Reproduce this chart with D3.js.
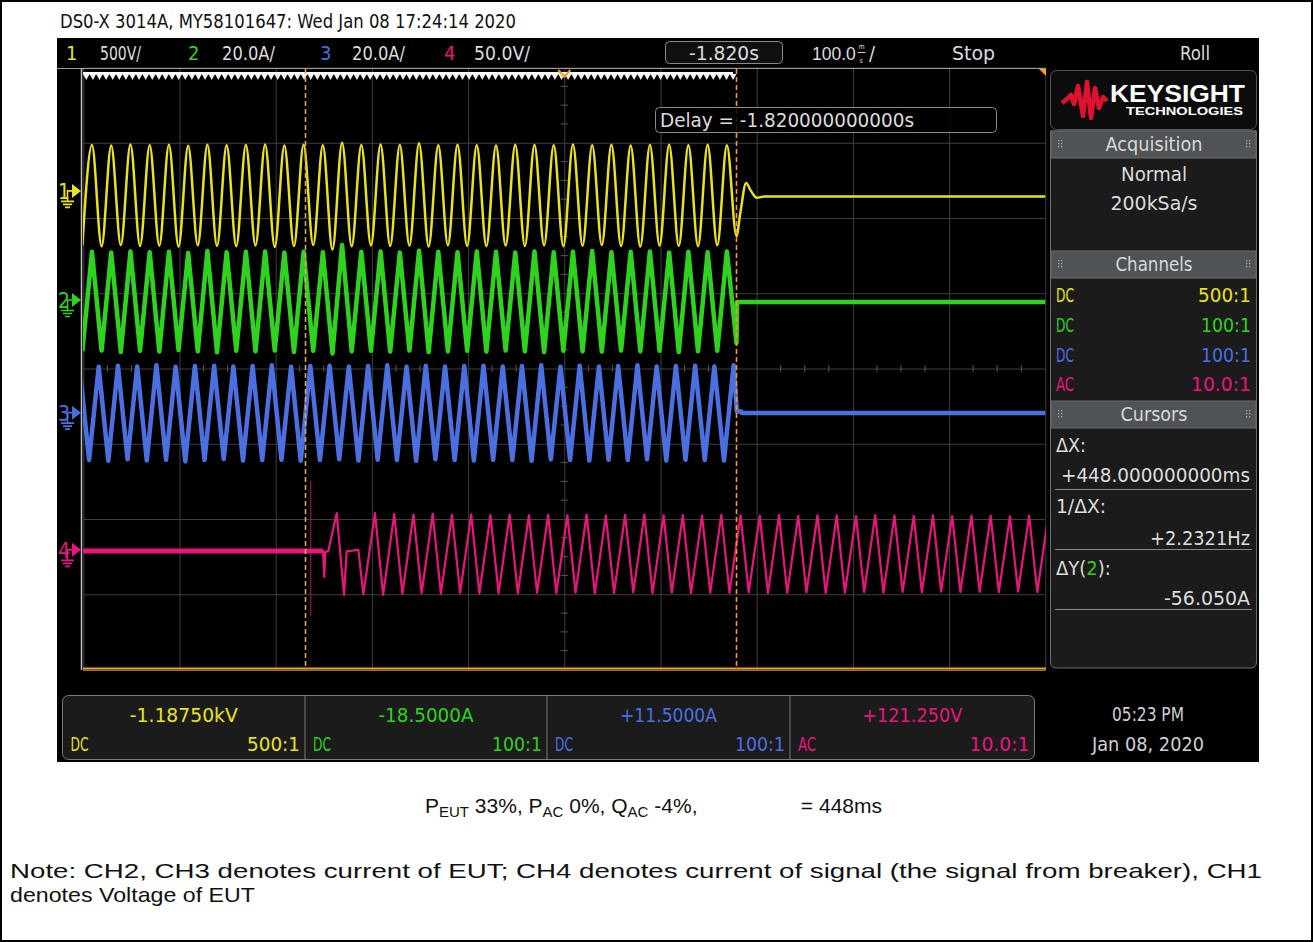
<!DOCTYPE html>
<html><head><meta charset="utf-8">
<script src="https://cdn.jsdelivr.net/npm/d3@7"></script>
<style>body{margin:0;background:#fff}svg{display:block}</style>
</head><body><svg id="c" width="1313" height="942"></svg>
<script>
// ---------------- DATA ----------------
const channelNames = ["1","2","3","4"];
const channelScaleLabels = ["500V/","20.0A/","20.0A/","50.0V/"];
const channelPerDiv = [500, 20, 20, 50];
const channelOffsetDiv = [2.36, 0.91, -0.587, -2.41];
const channelColors = ["#e8e31c","#2fd21f","#4b6fe0","#e8167c"];
const channelCoupling = ["DC","DC","DC","AC"];
const channelProbe = ["500:1","100:1","100:1","10.0:1"];
const cursorReadouts = ["-1.18750kV","-18.5000A","+11.5000A","+121.250V"];

const timeDomain = [-2320, -1320];          // ms, 100 ms/div, delay -1.820 s
const timeDivs = [-2320,-2220,-2120,-2020,-1920,-1820,-1720,-1620,-1520,-1420,-1320];
const voltDivs = [-4,-3,-2,-1,0,1,2,3,4];
const cursorTimes = [-2089, -1641];          // ΔX = 448 ms

// CH1 / CH2 extrema times (ms)
const mainsTimes = [
-2321,-2311,-2301,-2291,-2281,-2271,-2261,-2251,-2241,-2231,
-2221,-2211,-2201,-2191,-2181,-2171,-2161,-2151,-2141,-2131,
-2121,-2111,-2101,-2091,-2081,-2071,-2061,-2051,-2041,-2031,
-2021,-2011,-2001,-1991,-1981,-1971,-1961,-1951,-1941,-1931,
-1921,-1911,-1901,-1891,-1881,-1871,-1861,-1851,-1841,-1831,
-1821,-1811,-1801,-1791,-1781,-1771,-1761,-1751,-1741,-1731,
-1721,-1711,-1701,-1691,-1681,-1671,-1661,-1651,-1641];
// CH1 voltage (V)
const ch1Values = [
-362,305,-368,302,-360,308,-366,304,-364,306,
-370,300,-361,307,-365,303,-367,305,-363,309,
-372,302,-366,306,-360,304,-390,320,-368,305,
-362,308,-366,305,-364,316,-369,303,-361,306,
-365,304,-367,302,-363,307,-366,305,-362,303,
-368,308,-364,304,-360,306,-366,302,-370,305,
-363,307,-365,303,-367,306,-361,304,-300];
const ch1TailTimes = [-1637,-1631,-1626,-1620,-1612,-1320];
const ch1TailValues = [-146,53,0,-46,-37,-37];
// CH2 current (A)
const ch2Values = [
-13.6,12.8,-13.4,12.6,-13.8,12.9,-13.5,12.7,-13.7,12.8,
-13.3,12.5,-13.6,13.0,-13.9,12.7,-13.5,12.8,-13.6,12.9,
-13.4,12.6,-13.8,12.8,-13.5,12.7,-14.2,14.6,-13.6,12.8,
-13.5,12.9,-13.7,12.6,-13.4,13.1,-13.8,12.8,-13.6,12.7,
-13.5,12.9,-13.7,12.8,-13.4,12.6,-13.6,12.9,-13.8,12.7,
-13.5,12.8,-13.6,13.0,-13.7,12.7,-13.4,12.8,-13.6,12.9,
-13.5,12.6,-13.8,12.8,-13.6,12.7,-13.5,12.9,-11.4];
const ch2TailTimes = [-1640.4,-1320];
const ch2TailValues = [-0.5,-0.5];
// CH3 current (A)
const ch3Times = [
-2324,-2314,-2304,-2294,-2284,-2274,-2264,-2254,-2244,-2234,
-2224,-2214,-2204,-2194,-2184,-2174,-2164,-2154,-2144,-2134,
-2124,-2114,-2104,-2094,-2084,-2074,-2064,-2054,-2044,-2034,
-2024,-2014,-2004,-1994,-1984,-1974,-1964,-1954,-1944,-1934,
-1924,-1914,-1904,-1894,-1884,-1874,-1864,-1854,-1844,-1834,
-1824,-1814,-1804,-1794,-1784,-1774,-1764,-1754,-1744,-1734,
-1724,-1714,-1704,-1694,-1684,-1674,-1664,-1654,-1644];
const ch3Values = [
12.4,-12.6,12.2,-12.8,12.5,-12.4,12.3,-12.7,12.6,-12.5,
12.2,-12.9,12.4,-12.6,12.5,-12.3,12.3,-12.7,12.4,-12.6,
12.6,-12.5,12.2,-12.8,12.4,-12.6,12.5,-12.4,12.3,-12.7,
12.4,-12.5,12.6,-12.6,12.2,-12.8,12.5,-12.4,12.3,-12.6,
12.4,-12.7,12.5,-12.5,12.3,-12.6,12.4,-12.8,12.6,-12.4,
12.2,-12.6,12.5,-12.7,12.3,-12.5,12.4,-12.6,12.6,-12.4,
12.3,-12.7,12.4,-12.5,12.5,-12.6,12.3,-12.7,12.6];
const ch3TailTimes = [-1640.6,-1636,-1635.5,-1320];
const ch3TailValues = [0.3,0.3,-0.1,-0.1];
// CH4 voltage (V)
const ch4PreTimes = [-2320,-2070.8,-2069.5,-2068.5,-2065.3,-2056.6,-2049.0,-2046.2,-2034.1,-2028.9];
const ch4PreValues = [-0.7,-0.7,-18,-1.5,-0.7,24.4,-30,-1,0,-29.5];
const ch4GlitchTime = [-2083.6];
const ch4GlitchRange = [46, -44];
const ch4Times = [
-2016.8,-2008.3,-1996.8,-1988.3,-1976.8,-1968.3,-1956.8,-1948.3,-1936.8,-1928.3,
-1916.8,-1908.3,-1896.8,-1888.3,-1876.8,-1868.3,-1856.8,-1848.3,-1836.8,-1828.3,
-1816.8,-1808.3,-1796.8,-1788.3,-1776.8,-1768.3,-1756.8,-1748.3,-1736.8,-1728.3,
-1716.8,-1708.3,-1696.8,-1688.3,-1676.8,-1668.3,-1656.8,-1648.3,-1636.8,-1628.3,
-1616.8,-1608.3,-1596.8,-1588.3,-1576.8,-1568.3,-1556.8,-1548.3,-1536.8,-1528.3,
-1516.8,-1508.3,-1496.8,-1488.3,-1476.8,-1468.3,-1456.8,-1448.3,-1436.8,-1428.3,
-1416.8,-1408.3,-1396.8,-1388.3,-1376.8,-1368.3,-1356.8,-1348.3,-1336.8,-1328.3,
-1316.8];
const ch4Values = [
24.4,-29.9,23.8,-29.2,23.5,-28.8,23.9,-29.1,23.2,-28.6,
23.6,-29.0,23.1,-28.7,23.4,-28.9,22.9,-28.5,23.3,-28.8,
23.0,-28.4,23.5,-28.9,22.8,-28.6,23.2,-28.3,23.4,-28.7,
22.9,-28.5,23.1,-28.8,22.7,-28.4,23.3,-28.6,23.0,-28.3,
22.8,-28.7,23.2,-28.5,22.6,-28.2,23.0,-28.6,22.9,-28.4,
22.5,-28.1,23.1,-28.5,22.7,-27.9,22.6,-28.2,22.9,-27.8,
22.4,-28.0,22.8,-27.9,22.6,-28.1,22.3,-27.8,22.7,-28.0,
23.0];

// ---------------- DRAW ----------------
const F = "'DejaVu Sans Condensed','Liberation Sans Narrow','DejaVu Sans',sans-serif";
const A = "'Liberation Sans',Arial,sans-serif";
const svg = d3.select("#c");
function txt(g, x, y, s, o = {}) {
  const t = g.append("text").attr("x", x).attr("y", y).text(s)
    .attr("font-family", o.font || F).attr("font-size", o.size || 19)
    .attr("fill", o.fill || "#dcdcdc").attr("text-anchor", o.anchor || "start");
  if (!o.font) t.attr("font-stretch", "condensed");
  if (o.len) t.attr("textLength", o.len).attr("lengthAdjust", o.adj || "spacingAndGlyphs");
  if (o.weight) t.attr("font-weight", o.weight);
  return t;
}
const zip = (ts, vs) => ts.slice(0, Math.min(ts.length, vs.length)).map((t, i) => ({t, v: vs[i]}));

svg.append("rect").attr("width", 1313).attr("height", 942).attr("fill", "#fff");
svg.append("rect").attr("x", 1).attr("y", 1).attr("width", 1311).attr("height", 940)
  .attr("fill", "none").attr("stroke", "#000").attr("stroke-width", 2);

txt(svg, 60, 28, "DS0-X 3014A, MY58101647: Wed Jan 08 17:24:14 2020", {fill: "#111", size: 20, len: 456});

// scope black area
svg.append("rect").attr("x", 57).attr("y", 38).attr("width", 1202).attr("height", 724).attr("fill", "#000");

// header bar
const hx = [[66,100],[188,222],[320,352],[444,474]];
const hlen = [41,53,53,56];
channelNames.forEach((n, i) => {
  txt(svg, hx[i][0], 60, n, {fill: channelColors[i], size: 20});
  txt(svg, hx[i][1], 60, channelScaleLabels[i], {size: 20, len: hlen[i]});
});
svg.append("rect").attr("x", 665.5).attr("y", 41.5).attr("width", 117).attr("height", 22).attr("rx", 4)
  .attr("fill", "#101010").attr("stroke", "#8a8a8a");
txt(svg, 724, 60, "-1.820s", {anchor: "middle", size: 20, len: 70});
txt(svg, 812, 60, "100.0", {font: A, size: 17.5, fill: "#dcdcdc"});
txt(svg, 858.5, 49, "m", {size: 7});
svg.append("line").attr("x1", 857.5).attr("x2", 865.5).attr("y1", 52.5).attr("y2", 52.5).attr("stroke", "#ccc");
txt(svg, 859.5, 62.5, "s", {size: 7});
txt(svg, 869, 60, "/", {size: 20});
txt(svg, 952, 60, "Stop", {size: 20, len: 43});
txt(svg, 1180, 60, "Roll", {size: 20, len: 30});

// scales
const x = d3.scaleLinear().domain(timeDomain).range([83.3, 1045.3]);
const yDiv = d3.scaleLinear().domain([-4, 4]).range([669.5, 67.5]);
const yCh = i => v => yDiv(channelOffsetDiv[i] + v / channelPerDiv[i]);

// grid
const grid = svg.append("g");
grid.append("g").attr("transform", "translate(0,67.5)")
  .call(d3.axisBottom(x).tickValues(timeDivs).tickSize(602).tickFormat(""))
  .call(g => { g.select(".domain").remove(); g.selectAll("line").attr("stroke", "#3e3e3e"); });
grid.append("g").attr("transform", "translate(83.3,0)")
  .call(d3.axisRight(yDiv).tickValues(voltDivs).tickSize(962).tickFormat(""))
  .call(g => { g.select(".domain").remove(); g.selectAll("line").attr("stroke", "#3e3e3e"); });
const minorT = d3.range(0, 10).flatMap(d => [25, 50, 75].map(j => timeDomain[0] + d * 100 + j));
grid.selectAll(".mt").data(minorT).join("line")
  .attr("x1", d => x(d)).attr("x2", d => x(d)).attr("y1", yDiv(0) - 3.5).attr("y2", yDiv(0) + 3.5).attr("stroke", "#585858");
const minorV = d3.range(-4, 4).flatMap(d => [0.25, 0.5, 0.75].map(j => d + j));
grid.selectAll(".mv").data(minorV).join("line")
  .attr("y1", d => yDiv(d)).attr("y2", d => yDiv(d)).attr("x1", x(-1820) - 3.5).attr("x2", x(-1820) + 3.5).attr("stroke", "#585858");

// frame lines
svg.append("line").attr("x1", 57).attr("x2", 1046).attr("y1", 68.5).attr("y2", 68.5).attr("stroke", "#9a9a9a");
svg.append("line").attr("x1", 81.5).attr("x2", 81.5).attr("y1", 68).attr("y2", 670).attr("stroke", "#bdbdbd").attr("stroke-width", 1.5);
const teeth = d3.range(83, 733, 6.6);
svg.append("rect").attr("x", 83).attr("y", 72).attr("width", 650).attr("height", 2.5).attr("fill", "#fff");
svg.selectAll(".tooth").data(teeth).join("path")
  .attr("d", d => `M${d},74 L${d + 6.6},74 L${d + 3.3},80 Z`).attr("fill", "#f2f2f2");
svg.append("path").attr("d", `M${x(-1820) - 6},70 L${x(-1820)},77 L${x(-1820) + 6},70`).attr("fill", "none").attr("stroke", "#ff9a1a").attr("stroke-width", 2);
svg.append("path").attr("d", "M1039,69 L1046,69 L1046,76 Z").attr("fill", "#ff9a1a");
svg.append("line").attr("x1", 83).attr("x2", 1046).attr("y1", 668.5).attr("y2", 668.5).attr("stroke", "#ff9a1a").attr("stroke-width", 2.2);
svg.append("line").attr("x1", 83).attr("x2", 1046).attr("y1", 670.5).attr("y2", 670.5).attr("stroke", "#777");

svg.append("clipPath").attr("id", "clip").append("rect").attr("x", 83).attr("y", 68).attr("width", 963).attr("height", 600);
const wave = svg.append("g").attr("clip-path", "url(#clip)");

// channel markers
channelNames.forEach((n, i) => {
  const g = yDiv(channelOffsetDiv[i]);
  const c = channelColors[i];
  const m = svg.append("g");
  txt(m, 58, g + 8, n, {fill: c, size: 21});
  m.append("path").attr("d", `M72,${g - 7} L81,${g} L72,${g + 7} Z`).attr("fill", c);
  m.append("path").attr("d", `M67.5,${g + 10} L67.5,${g} L73,${g} M61,${g + 10.5} L74,${g + 10.5} M63,${g + 13.5} L72,${g + 13.5} M65,${g + 16.5} L70,${g + 16.5}`)
    .attr("stroke", c).attr("stroke-width", 1.6).attr("fill", "none");
});

// waveforms
const lineOf = (i, curve) => d3.line().x(d => x(d.t)).y(d => yCh(i)(d.v)).curve(curve);
const ch1 = zip(mainsTimes, ch1Values).concat(zip(ch1TailTimes, ch1TailValues));
const ch2 = zip(mainsTimes, ch2Values).concat(zip(ch2TailTimes, ch2TailValues));
const ch3 = zip(ch3Times, ch3Values).concat(zip(ch3TailTimes, ch3TailValues));
const ch4 = zip(ch4PreTimes, ch4PreValues).concat(zip(ch4Times, ch4Values));

wave.append("path").datum(ch3).attr("d", lineOf(2, d3.curveLinear))
  .attr("fill", "none").attr("stroke", channelColors[2]).attr("stroke-width", 4.5).attr("stroke-linejoin", "round");
wave.append("path").datum(ch2).attr("d", lineOf(1, d3.curveLinear))
  .attr("fill", "none").attr("stroke", channelColors[1]).attr("stroke-width", 4.5).attr("stroke-linejoin", "round");
wave.append("path").datum(ch1).attr("d", lineOf(0, d3.curveMonotoneX))
  .attr("fill", "none").attr("stroke", channelColors[0]).attr("stroke-width", 2.5).attr("stroke-linejoin", "round");
wave.append("line").attr("x1", x(ch4GlitchTime[0])).attr("x2", x(ch4GlitchTime[0]))
  .attr("y1", yCh(3)(ch4GlitchRange[0])).attr("y2", yCh(3)(ch4GlitchRange[1]))
  .attr("stroke", "#b0105e").attr("stroke-width", 1);
wave.append("path").datum(ch4).attr("d", lineOf(3, d3.curveLinear))
  .attr("fill", "none").attr("stroke", channelColors[3]).attr("stroke-width", 2.2).attr("stroke-linejoin", "round");
wave.append("path").datum(ch4.filter(d => d.t <= -2070.8)).attr("d", lineOf(3, d3.curveLinear))
  .attr("fill", "none").attr("stroke", channelColors[3]).attr("stroke-width", 5);

// cursors
const cursorColors = ["#d9a35f", "#ff9414"];
cursorTimes.forEach((t, i) => {
  svg.append("line").attr("x1", x(t)).attr("x2", x(t)).attr("y1", 69).attr("y2", 668)
    .attr("stroke", cursorColors[i]).attr("stroke-width", 1.6).attr("stroke-dasharray", "5,3");
});

// delay box
svg.append("rect").attr("x", 655.5).attr("y", 107.5).attr("width", 341).attr("height", 25).attr("rx", 4)
  .attr("fill", "#000").attr("fill-opacity", 0.85).attr("stroke", "#8a8a8a");
txt(svg, 660, 127, "Delay = -1.820000000000s", {size: 20, len: 254});

// ---- right panel ----
const rp = svg.append("g");
rp.append("rect").attr("x", 1050.5).attr("y", 70.5).attr("width", 206).attr("height", 59).attr("rx", 6)
  .attr("fill", "#0c0c0c").attr("stroke", "#555");
rp.append("path").attr("d", "M1062,103 L1067,99 L1071,95 L1074,104 L1078,86 L1083,116 L1087,82 L1091,118 L1095,88 L1099,108 L1103,97 L1107,101")
  .attr("fill", "none").attr("stroke", "#e0102f").attr("stroke-width", 4.5).attr("stroke-linejoin", "round");
txt(rp, 1110, 102, "KEYSIGHT", {font: A, weight: "bold", size: 23, fill: "#fff", len: 135});
txt(rp, 1126, 115, "TECHNOLOGIES", {font: A, weight: "bold", size: 11.5, fill: "#fff", len: 117});

rp.append("path").attr("d", "M1050.5,131 L1256.5,131 L1256.5,662 Q1256.5,668 1250.5,668 L1056.5,668 Q1050.5,668 1050.5,662 Z")
  .attr("fill", "#1b1b1b").attr("stroke", "#6c6c6c");
const sections = [["Acquisition", 131, 97], ["Channels", 251, 77], ["Cursors", 401, 67]];
sections.forEach(([name, y0, w]) => {
  rp.append("rect").attr("x", 1051).attr("y", y0).attr("width", 205).attr("height", 27).attr("fill", "#505356").attr("stroke", "#6c6c6c");
  txt(rp, 1154, y0 + 20, name, {anchor: "middle", size: 20, fill: "#d8d8d8", len: w});
  [1058, 1246].forEach(hx0 => {
    [0, 1].forEach(c => [0, 1, 2].forEach(r => rp.append("rect").attr("x", hx0 + c * 3).attr("y", y0 + 9 + r * 3).attr("width", 1.3).attr("height", 1.3).attr("fill", "#aaa")));
  });
});
txt(rp, 1154, 181, "Normal", {anchor: "middle", size: 20, len: 66});
txt(rp, 1154, 210, "200kSa/s", {anchor: "middle", size: 20, len: 87});
const probeLen = [53, 50, 50, 60];
channelNames.forEach((n, i) => {
  const yy = 302 + i * 29.8;
  txt(rp, 1056, yy, channelCoupling[i], {fill: channelColors[i], size: 20, len: 18});
  txt(rp, 1251, yy, channelProbe[i], {fill: channelColors[i], size: 20, anchor: "end", len: probeLen[i]});
});
txt(rp, 1056, 452, "ΔX:", {size: 20, len: 30});
txt(rp, 1250, 482, "+448.000000000ms", {size: 20, anchor: "end", len: 189});
txt(rp, 1056, 513, "1/ΔX:", {size: 20, len: 50});
txt(rp, 1250, 545, "+2.2321Hz", {size: 20, anchor: "end", len: 100});
const dy = txt(rp, 1056, 575, "ΔY(", {size: 20});
dy.append("tspan").attr("fill", channelColors[1]).text("2");
dy.append("tspan").text("):");
txt(rp, 1250, 605, "-56.050A", {size: 20, anchor: "end", len: 86});
[489, 549, 609].forEach(ly => rp.append("line").attr("x1", 1055).attr("x2", 1252).attr("y1", ly + 0.5).attr("y2", ly + 0.5).attr("stroke", "#888"));

// ---- bottom panel ----
const bp = svg.append("g");
bp.append("rect").attr("x", 62.5).attr("y", 695.5).attr("width", 972).attr("height", 64).attr("rx", 6)
  .attr("fill", "#1b1b1b").attr("stroke", "#7a7a7a");
const cellX = [62.5, 305, 547, 790, 1034.5];
const readLen = [108, 95, 97, 100];
channelNames.forEach((n, i) => {
  if (i > 0) bp.append("line").attr("x1", cellX[i]).attr("x2", cellX[i]).attr("y1", 696).attr("y2", 759).attr("stroke", "#7a7a7a");
  const cx = (cellX[i] + cellX[i + 1]) / 2;
  txt(bp, cx, 722, cursorReadouts[i], {fill: channelColors[i], size: 20, anchor: "middle", len: readLen[i]});
  txt(bp, cellX[i] + 8, 751, channelCoupling[i], {fill: channelColors[i], size: 20, len: 18});
  txt(bp, cellX[i + 1] - 5, 751, channelProbe[i], {fill: channelColors[i], size: 20, anchor: "end", len: probeLen[i]});
});
txt(svg, 1148, 721, "05:23 PM", {anchor: "middle", size: 20, fill: "#d0d0d0", len: 72});
txt(svg, 1148, 751, "Jan 08, 2020", {anchor: "middle", size: 20, fill: "#d0d0d0", len: 112});

// ---- caption & note ----
const cap = svg.append("text").attr("x", 425).attr("y", 813).attr("font-family", A).attr("font-size", 21).attr("fill", "#111");
cap.append("tspan").text("P");
cap.append("tspan").attr("font-size", 15).attr("dy", 4).text("EUT");
cap.append("tspan").attr("dy", -4).text(" 33%, P");
cap.append("tspan").attr("font-size", 15).attr("dy", 4).text("AC");
cap.append("tspan").attr("dy", -4).text(" 0%, Q");
cap.append("tspan").attr("font-size", 15).attr("dy", 4).text("AC");
cap.append("tspan").attr("dy", -4).text(" -4%,");
txt(svg, 882, 813, "= 448ms", {font: A, size: 21, fill: "#111", anchor: "end"});
txt(svg, 10, 878, "Note: CH2, CH3 denotes current of EUT; CH4 denotes current of signal (the signal from breaker), CH1", {font: A, size: 21, fill: "#111", len: 1252});
txt(svg, 10, 902, "denotes Voltage of EUT", {font: A, size: 21, fill: "#111", len: 245});
</script></body></html>
